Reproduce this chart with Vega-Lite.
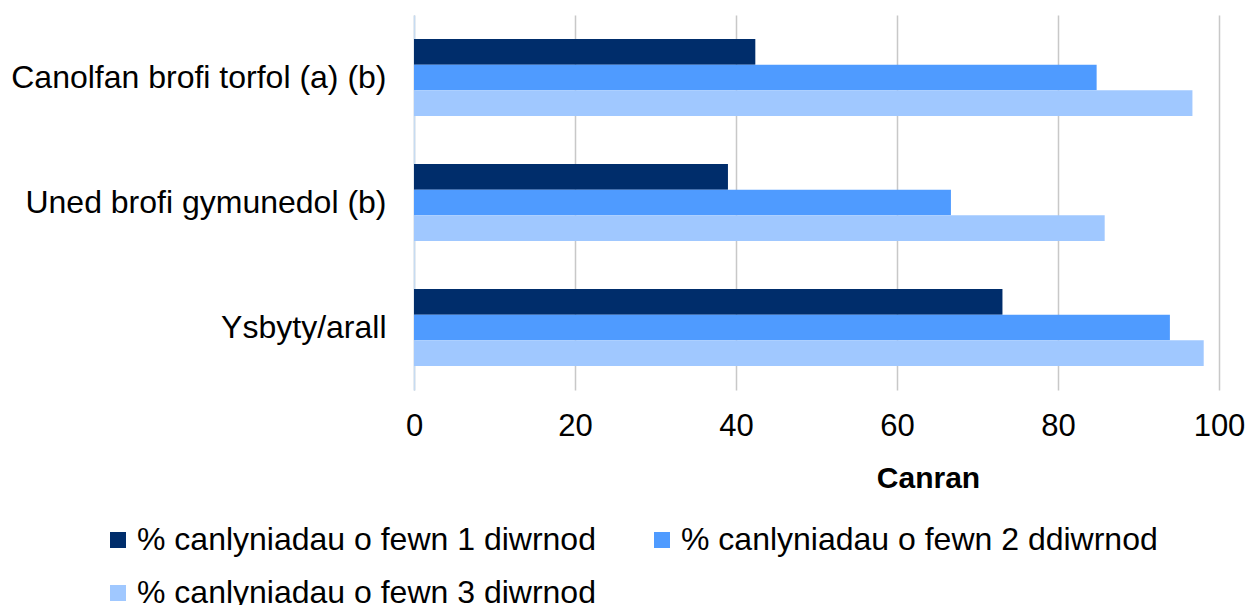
{
  "$schema": "https://vega.github.io/schema/vega-lite/v6.json",
  "width": 805,
  "height": 375,
  "autosize": {"type": "none"},
  "padding": {"left": 414, "top": 15, "right": 28, "bottom": 215},
  "background": "white",
  "config": {
    "view": {"stroke": null},
    "font": "Liberation Sans"
  },
  "data": {
    "values": [
      {"cat": "Canolfan brofi torfol (a) (b)", "series": "% canlyniadau o fewn 1 diwrnod", "value": 42.4},
      {"cat": "Canolfan brofi torfol (a) (b)", "series": "% canlyniadau o fewn 2 ddiwrnod", "value": 84.8},
      {"cat": "Canolfan brofi torfol (a) (b)", "series": "% canlyniadau o fewn 3 diwrnod", "value": 96.7},
      {"cat": "Uned brofi gymunedol (b)", "series": "% canlyniadau o fewn 1 diwrnod", "value": 39.0},
      {"cat": "Uned brofi gymunedol (b)", "series": "% canlyniadau o fewn 2 ddiwrnod", "value": 66.7},
      {"cat": "Uned brofi gymunedol (b)", "series": "% canlyniadau o fewn 3 diwrnod", "value": 85.8},
      {"cat": "Ysbyty/arall", "series": "% canlyniadau o fewn 1 diwrnod", "value": 73.1},
      {"cat": "Ysbyty/arall", "series": "% canlyniadau o fewn 2 ddiwrnod", "value": 93.9},
      {"cat": "Ysbyty/arall", "series": "% canlyniadau o fewn 3 diwrnod", "value": 98.1}
    ]
  },
  "mark": {"type": "bar"},
  "encoding": {
    "y": {
      "field": "cat",
      "type": "nominal",
      "sort": ["Canolfan brofi torfol (a) (b)", "Uned brofi gymunedol (b)", "Ysbyty/arall"],
      "scale": {"paddingInner": 0.384, "paddingOuter": 0.192},
      "axis": {
        "title": null,
        "ticks": false,
        "labelFontSize": 32,
        "labelColor": "#000000",
        "labelPadding": 28,
        "labelLimit": 500,
        "domainColor": "#C6DCF2",
        "domainWidth": 1.5,
        "grid": false
      }
    },
    "yOffset": {
      "field": "series",
      "type": "nominal",
      "sort": ["% canlyniadau o fewn 1 diwrnod", "% canlyniadau o fewn 2 ddiwrnod", "% canlyniadau o fewn 3 diwrnod"],
      "scale": {"paddingInner": 0, "paddingOuter": 0}
    },
    "x": {
      "field": "value",
      "type": "quantitative",
      "scale": {"domain": [0, 100], "nice": false},
      "axis": {
        "title": "Canran",
        "titleFontSize": 30,
        "titleFontWeight": "bold",
        "titleColor": "#000000",
        "titleX": 514,
        "titleY": 97,
        "titleAlign": "center",
        "titleBaseline": "alphabetic",
        "values": [0, 20, 40, 60, 80, 100],
        "labelFontSize": 31,
        "labelColor": "#000000",
        "labelPadding": 21,
        "labelFlush": false,
        "labelOverlap": false,
        "ticks": false,
        "tickSize": 0,
        "domain": false,
        "gridColor": "#C8C8C8",
        "gridWidth": 1.5
      }
    },
    "color": {
      "field": "series",
      "type": "nominal",
      "sort": ["% canlyniadau o fewn 1 diwrnod", "% canlyniadau o fewn 2 ddiwrnod", "% canlyniadau o fewn 3 diwrnod"],
      "scale": {"range": ["#002D6B", "#4F9BFF", "#A0C8FF"]},
      "legend": {
        "title": null,
        "orient": "none",
        "legendX": -312,
        "legendY": 509,
        "direction": "horizontal",
        "columns": 2,
        "columnPadding": 50,
        "rowPadding": 21,
        "padding": 0,
        "symbolType": "square",
        "symbolSize": 256,
        "symbolStrokeWidth": 0,
        "symbolOpacity": 1,
        "labelFontSize": 32,
        "labelColor": "#000000",
        "labelOffset": 3,
        "labelLimit": 600
      }
    }
  }
}
